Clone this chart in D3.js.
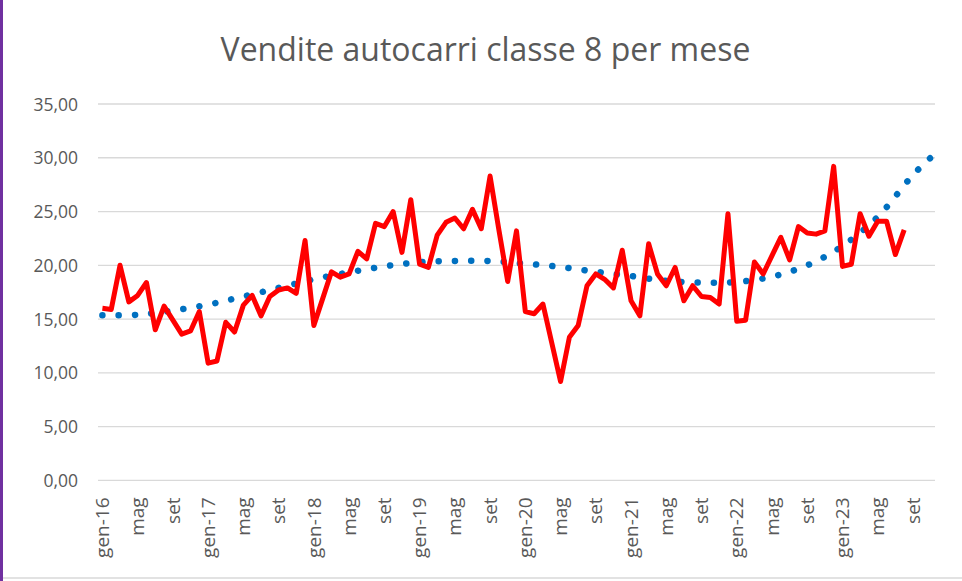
<!DOCTYPE html>
<html>
<head>
<meta charset="utf-8">
<script src="https://cdn.jsdelivr.net/npm/d3@7"></script>
<style>
  body { margin: 0; background: #fff; }
  text { font-family: "Open Sans", sans-serif; fill: #595959; }
</style>
</head>
<body>
<div class="chart"></div>
<script>
// month names used on the axis (Italian)
var monthNames = ['gen', 'feb', 'mar', 'apr', 'mag', 'giu', 'lug', 'ago', 'set', 'ott', 'nov', 'dic'];
var years = [16, 17, 18, 19, 20, 21, 22, 23];
var lastMonth = 10; // axis runs up to nov-23

// monthly sales, gen-16 .. ago-23
var sales = [
  16.0, 15.9, 20.0, 16.6, 17.2, 18.4, 14.0, 16.2, 14.9, 13.6, 13.9, 15.7,
  10.9, 11.1, 14.7, 13.8, 16.3, 17.2, 15.3, 17.1, 17.7, 17.9, 17.4, 22.3,
  14.4, 16.9, 19.4, 18.9, 19.2, 21.3, 20.6, 23.9, 23.6, 25.0, 21.2, 26.1,
  20.1, 19.8, 22.8, 24.0, 24.4, 23.4, 25.2, 23.4, 28.3, 23.3, 18.5, 23.2,
  15.7, 15.5, 16.4, 12.8, 9.2, 13.3, 14.4, 18.1, 19.2, 18.7, 17.9, 21.4,
  16.7, 15.3, 22.0, 19.2, 18.1, 19.8, 16.7, 18.1, 17.1, 17.0, 16.4, 24.8,
  14.8, 14.9, 20.3, 19.2, 20.9, 22.6, 20.5, 23.6, 23.0, 22.9, 23.2, 29.2,
  19.9, 20.1, 24.8, 22.7, 24.1, 24.1, 21.0, 23.3
];

// trend line (month index -> value)
var trendMonth = [0, 4, 8, 12, 16, 20, 24, 28, 32, 36, 40, 44, 48, 52, 56, 60, 64, 68, 72, 76, 80, 84, 88, 92, 94];
var trendValue = [15.35, 15.4, 15.8, 16.35, 17.1, 17.9, 18.7, 19.35, 19.9, 20.3, 20.4, 20.4, 20.15, 19.85,
  19.4, 19.0, 18.55, 18.4, 18.45, 18.95, 20.0, 21.8, 24.5, 28.4, 30.0];

var yTicks = [0, 5, 10, 15, 20, 25, 30, 35];

var categories = [];
years.forEach(function (yr, yi) {
  monthNames.forEach(function (m, mi) {
    if (yi === years.length - 1 && mi > lastMonth) return;
    categories.push(m + '-' + yr);
  });
});

var W = 962, H = 581;
var plotLeft = 98, plotRight = 935, plotTop = 104, plotBottom = 480.4;

var svg = d3.select('.chart')
  .append('svg')
    .attr('width', W)
    .attr('height', H);

// frame bits from the slide
svg.append('rect').attr('x', 0).attr('y', 0).attr('width', 3).attr('height', H).attr('fill', '#7030A0');
svg.append('line').attr('x1', 3).attr('x2', W).attr('y1', 578).attr('y2', 578)
  .attr('stroke', '#D9D9D9').attr('stroke-width', 1.5);

var x = d3.scaleBand()
  .domain(categories)
  .range([plotLeft, plotRight])
  .paddingInner(0).paddingOuter(0);
var cx = function (i) { return x(categories[i]) + x.bandwidth() / 2; };

var y = d3.scaleLinear()
  .domain([0, 35])
  .range([plotBottom, plotTop]);

// gridlines
svg.append('g')
  .selectAll('line')
  .data(yTicks)
  .enter().append('line')
    .attr('x1', plotLeft).attr('x2', plotRight)
    .attr('y1', d => y(d)).attr('y2', d => y(d))
    .attr('stroke', '#D9D9D9')
    .attr('stroke-width', 1.3);

// y axis labels
var yAxis = svg.append('g')
  .attr('transform', `translate(78, 0)`)
  .call(d3.axisLeft(y).tickValues(yTicks).tickSize(0).tickPadding(0)
    .tickFormat(d => d3.format('.2f')(d).replace('.', ',')));
yAxis.select('.domain').remove();
yAxis.selectAll('text')
  .style('font-size', '17.5px')
  .attr('fill', '#595959')
  .attr('dy', '0.35em');

// x axis labels, every 4 months
var xAxis = svg.append('g')
  .attr('transform', `translate(0, ${plotBottom})`)
  .call(d3.axisBottom(x)
    .tickValues(categories.filter((d, i) => i % 4 === 0))
    .tickSize(0)
    .tickFormat(d => d.indexOf('gen') === 0 ? d : d.split('-')[0]));
xAxis.select('.domain').remove();
xAxis.selectAll('text')
  .style('font-size', '19px')
  .attr('fill', '#595959')
  .attr('transform', 'rotate(-90)')
  .attr('text-anchor', 'end')
  .attr('x', -17)
  .attr('y', 0)
  .attr('dy', '0.35em');

// trend (dotted)
var trendLine = d3.line()
  .x((d, i) => cx(trendMonth[i]))
  .y(d => y(d))
  .curve(d3.curveCatmullRom);
var trendPath = svg.append('path')
  .datum(trendValue)
  .attr('d', trendLine)
  .attr('fill', 'none')
  .attr('stroke', '#0070C0')
  .attr('stroke-width', 6.5)
  .attr('stroke-linecap', 'round');
// spread the dots so one sits near each end
var len = trendPath.node().getTotalLength();
var n = Math.round(len / 16.2);
var gap = (len - 1) / n;
trendPath.attr('stroke-dasharray', `0.1 ${gap - 0.1}`);

// sales line
var salesLine = d3.line()
  .x((d, i) => cx(i))
  .y(d => y(d));
svg.append('path')
  .datum(sales)
  .attr('d', salesLine)
  .attr('fill', 'none')
  .attr('stroke', '#FF0000')
  .attr('stroke-width', 5)
  .attr('stroke-linejoin', 'round');

// title
var title = svg.append('text')
  .attr('x', 485.5)
  .attr('y', 61)
  .attr('text-anchor', 'middle')
  .style('font-size', '28px')
  .text('Vendite autocarri classe 8 per mese');
var tw = title.node().getComputedTextLength();
title.style('font-size', (28 * 530 / tw) + 'px');
</script>
</body>
</html>
